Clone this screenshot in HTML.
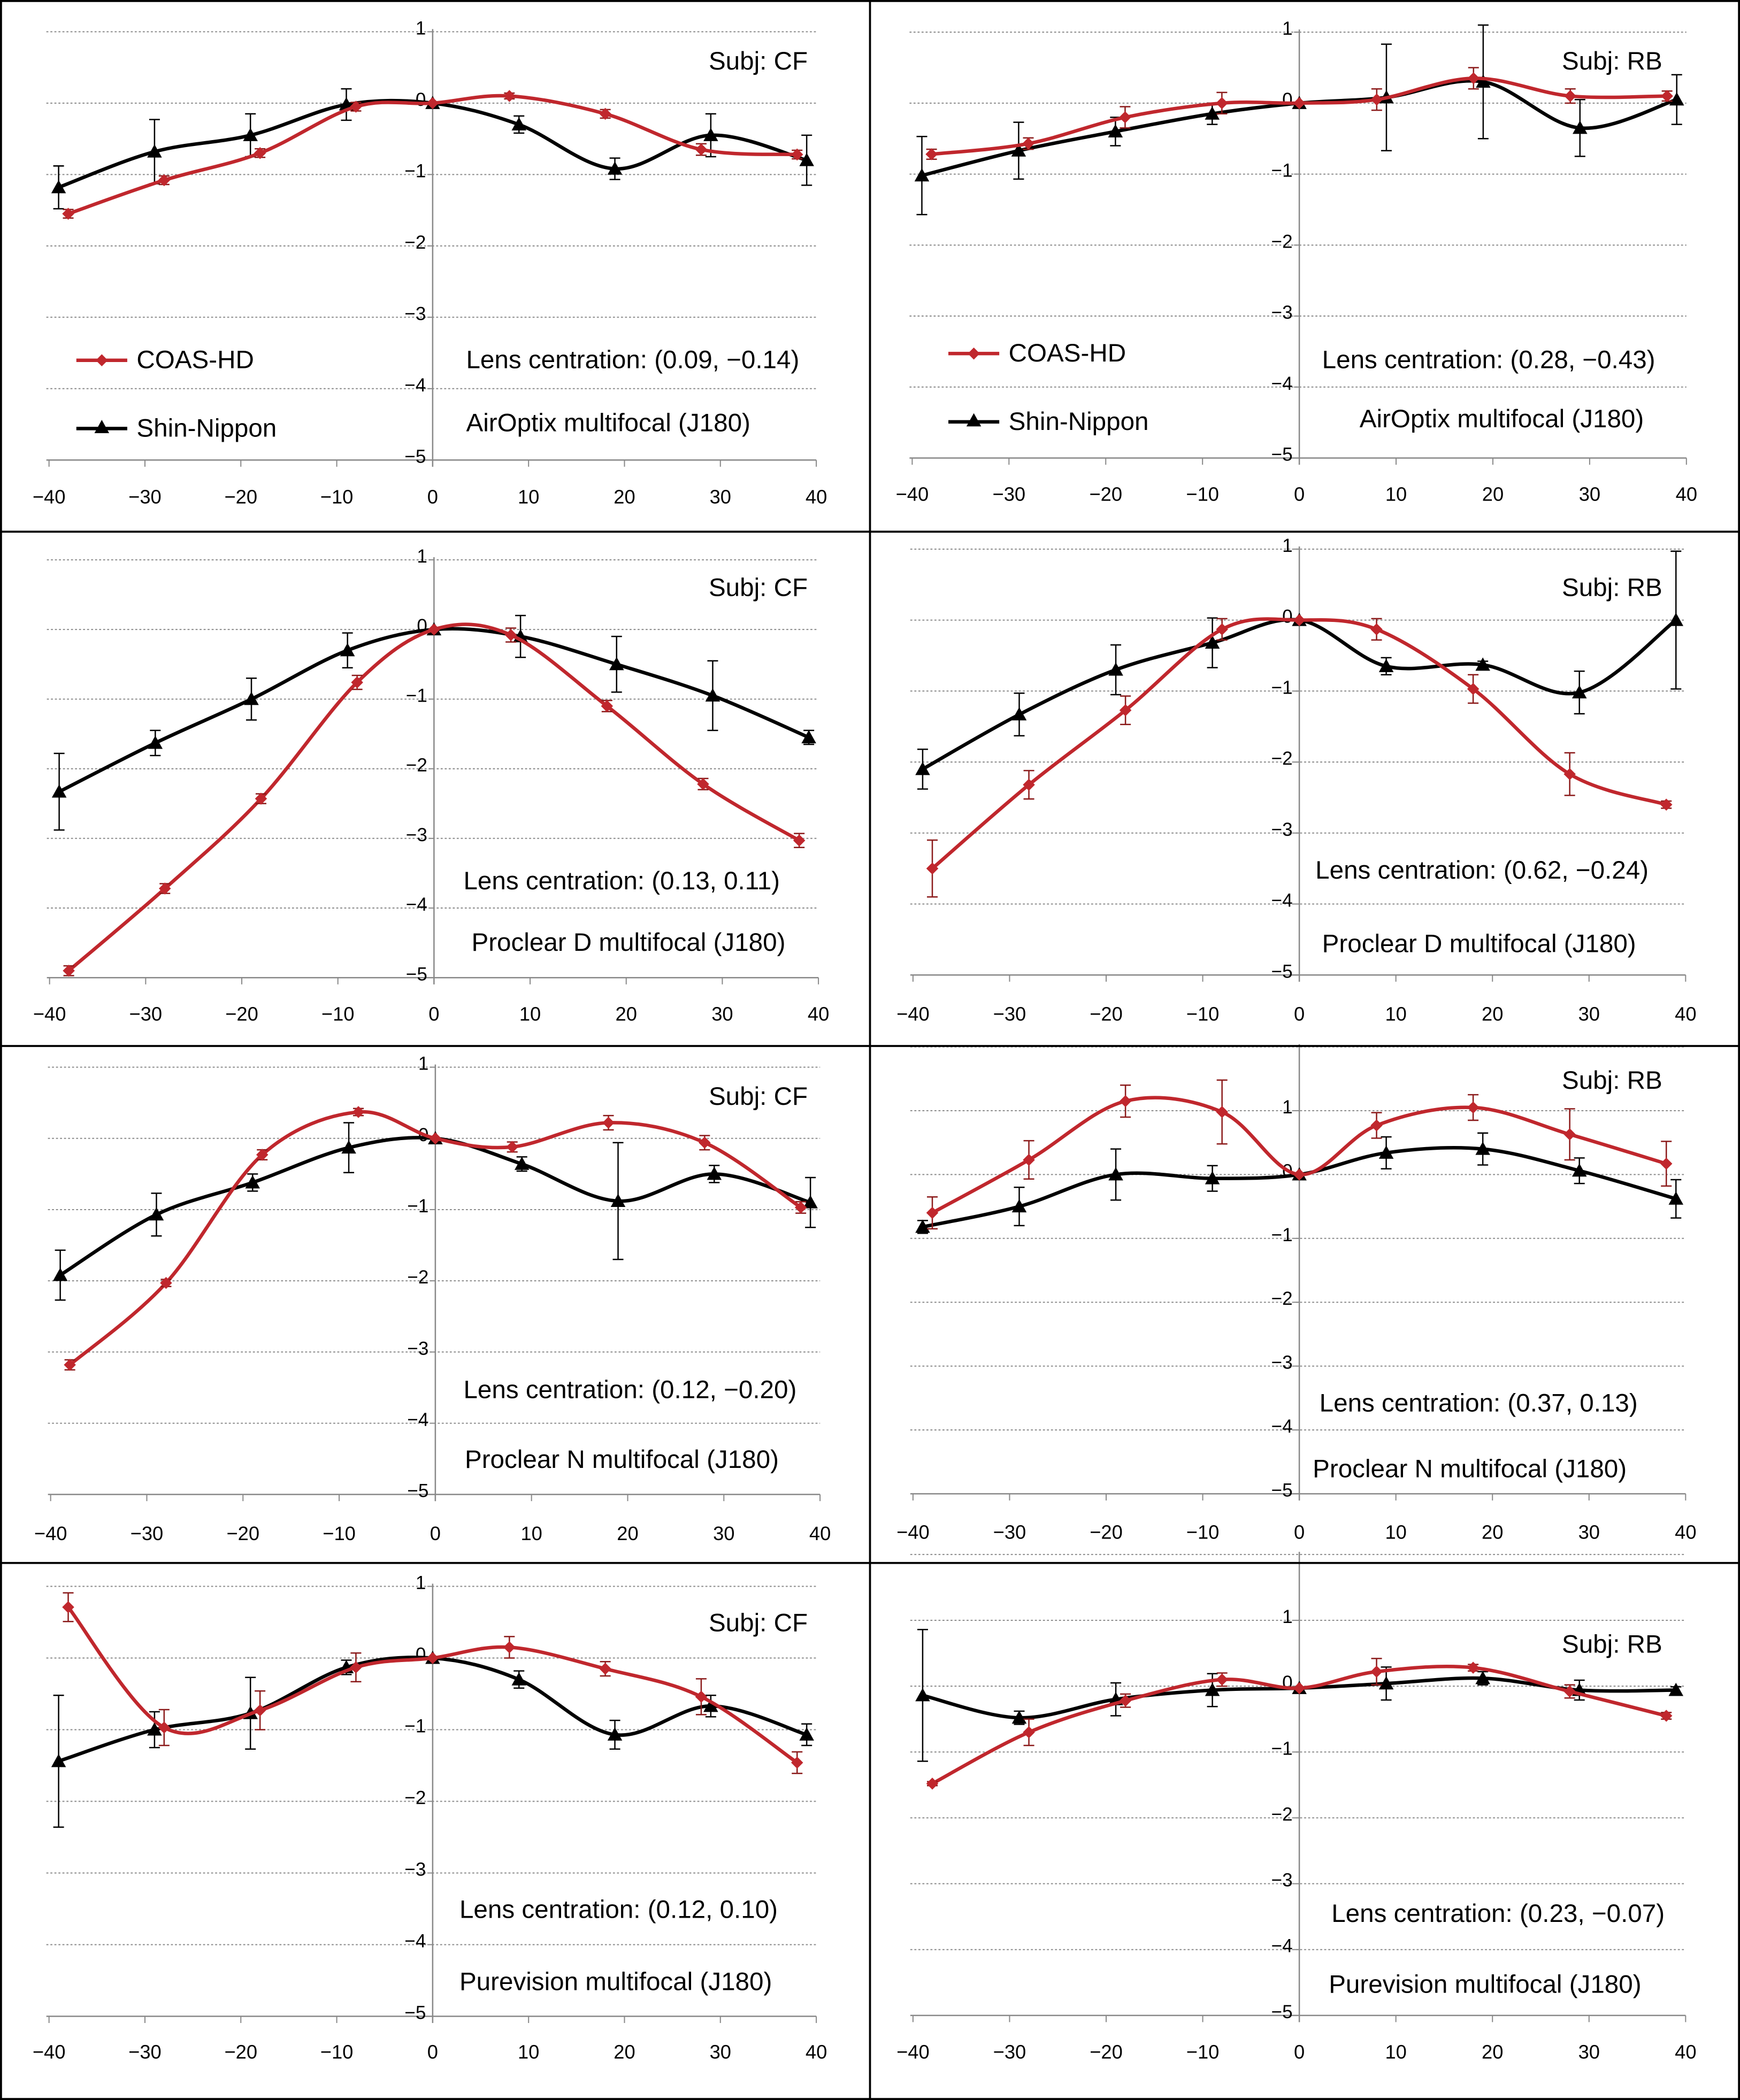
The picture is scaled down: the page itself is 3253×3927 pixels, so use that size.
<!DOCTYPE html>
<html><head><meta charset="utf-8">
<style>
html,body{margin:0;padding:0;background:#fff;}
svg{display:block;}
text{font-family:"Liberation Sans",sans-serif;}
</style></head>
<body>
<svg id="fig" xmlns="http://www.w3.org/2000/svg" width="3253" height="3927" viewBox="0 0 1299 1568" preserveAspectRatio="none">
<rect x="0" y="0" width="1299" height="1568" fill="#fff"/>
</svg>
<script>
// x positions of measurements
const coasX = [-38,-28,-18,-8,0,8,18,28,38];
const snX = [-39,-29,-19,-9,0,9,19,29,39];
const xTicks = [-40,-30,-20,-10,0,10,20,30,40];
const yTicks = [1,0,-1,-2,-3,-4,-5];

// Panel 1: CF AirOptix
const p1Coas = [-1.55,-1.08,-0.7,-0.05,0,0.1,-0.15,-0.65,-0.72];
const p1CoasErr = [0.06,0.06,0.06,0.06,0,0.04,0.06,0.08,0.06];
const p1Sn = [-1.18,-0.68,-0.45,-0.02,0,-0.3,-0.92,-0.45,-0.8];
const p1SnErr = [0.3,0.45,0.3,0.22,0,0.12,0.15,0.3,0.35];
// Panel 2: RB AirOptix
const p2Coas = [-0.72,-0.57,-0.2,0,0,0.05,0.35,0.1,0.1];
const p2CoasErr = [0.07,0.08,0.15,0.15,0,0.15,0.15,0.1,0.07];
const p2Sn = [-1.02,-0.67,-0.4,-0.15,0,0.08,0.3,-0.35,0.05];
const p2SnErr = [0.55,0.4,0.2,0.15,0,0.75,0.8,0.4,0.35];
// Panel 3: CF Proclear D
const p3Coas = [-4.9,-3.72,-2.43,-0.76,0,-0.08,-1.1,-2.22,-3.03];
const p3CoasErr = [0.07,0.07,0.07,0.1,0,0.1,0.08,0.08,0.1];
const p3Sn = [-2.33,-1.63,-1.0,-0.3,0,-0.1,-0.5,-0.95,-1.55];
const p3SnErr = [0.55,0.18,0.3,0.25,0,0.3,0.4,0.5,0.1];
// Panel 4: RB Proclear D
const p4Coas = [-3.5,-2.32,-1.27,-0.13,0,-0.13,-0.97,-2.17,-2.6];
const p4CoasErr = [0.4,0.2,0.2,0.15,0,0.15,0.2,0.3,0.05];
const p4Sn = [-2.1,-1.33,-0.7,-0.32,0,-0.65,-0.63,-1.02,0.0];
const p4SnErr = [0.28,0.3,0.35,0.35,0,0.12,0.05,0.3,0.97];
// Panel 5: CF Proclear N
const p5Coas = [-3.18,-2.03,-0.23,0.37,0,-0.12,0.22,-0.06,-0.97];
const p5CoasErr = [0.07,0.05,0.07,0.05,0,0.07,0.1,0.1,0.08];
const p5Sn = [-1.92,-1.07,-0.62,-0.13,0,-0.36,-0.88,-0.5,-0.9];
const p5SnErr = [0.35,0.3,0.12,0.35,0,0.1,0.82,0.12,0.35];
// Panel 6: RB Proclear N
const p6Coas = [-0.6,0.23,1.15,0.98,0,0.77,1.05,0.63,0.17];
const p6CoasErr = [0.25,0.3,0.25,0.5,0,0.2,0.2,0.4,0.35];
const p6Sn = [-0.82,-0.5,0,-0.06,0,0.34,0.4,0.06,-0.38];
const p6SnErr = [0.1,0.3,0.4,0.2,0,0.25,0.25,0.2,0.3];
// Panel 7: CF Purevision
const p7Coas = [0.71,-0.97,-0.73,-0.13,0,0.15,-0.15,-0.54,-1.46];
const p7CoasErr = [0.2,0.25,0.27,0.2,0,0.15,0.1,0.25,0.15];
const p7Sn = [-1.44,-1.0,-0.77,-0.13,0,-0.3,-1.07,-0.67,-1.07];
const p7SnErr = [0.92,0.25,0.5,0.1,0,0.12,0.2,0.15,0.15];
// Panel 8: RB Purevision
const p8Coas = [-1.48,-0.7,-0.22,0.1,-0.03,0.22,0.28,-0.08,-0.45];
const p8CoasErr = [0.03,0.2,0.1,0.1,0,0.2,0.05,0.1,0.05];
const p8Sn = [-0.14,-0.48,-0.2,-0.06,-0.03,0.04,0.12,-0.06,-0.06];
const p8SnErr = [1.0,0.1,0.25,0.25,0,0.25,0.1,0.15,0.05];

const panels = [
 {id:'p1',x0:323,xs:7.16,y0:77,ys:53.3,lab:371,coas:p1Coas,ce:p1CoasErr,sn:p1Sn,se:p1SnErr,subj:'Subj: CF',subjY:46,lens:'Lens centration: (0.09, \u22120.14)',lx:348,ly:269,prod:'AirOptix multifocal (J180)',px:348,py:316,legend:{x:57,y1:269,y2:320}},
 {id:'p2',x0:970,xs:7.225,y0:77,ys:53,lab:369,coas:p2Coas,ce:p2CoasErr,sn:p2Sn,se:p2SnErr,subj:'Subj: RB',subjY:46,lens:'Lens centration: (0.28, \u22120.43)',lx:987,ly:269,prod:'AirOptix multifocal (J180)',px:1015,py:313,legend:{x:708,y1:264,y2:315}},
 {id:'p3',x0:324,xs:7.175,y0:470,ys:52,lab:757,coas:p3Coas,ce:p3CoasErr,sn:p3Sn,se:p3SnErr,subj:'Subj: CF',subjY:439,lens:'Lens centration: (0.13, 0.11)',lx:346,ly:658,prod:'Proclear D multifocal (J180)',px:352,py:704},
 {id:'p4',x0:970,xs:7.21,y0:463,ys:53,lab:757,coas:p4Coas,ce:p4CoasErr,sn:p4Sn,se:p4SnErr,subj:'Subj: RB',subjY:439,lens:'Lens centration: (0.62, \u22120.24)',lx:982,ly:650,prod:'Proclear D multifocal (J180)',px:987,py:705},
 {id:'p5',x0:325,xs:7.18,y0:850,ys:53.17,lab:1145,coas:p5Coas,ce:p5CoasErr,sn:p5Sn,se:p5SnErr,subj:'Subj: CF',subjY:819,lens:'Lens centration: (0.12, \u22120.20)',lx:346,ly:1038,prod:'Proclear N multifocal (J180)',px:347,py:1090},
 {id:'p6',x0:970,xs:7.21,y0:877,ys:47.67,lab:1144,top:2,coas:p6Coas,ce:p6CoasErr,sn:p6Sn,se:p6SnErr,subj:'Subj: RB',subjY:807,lens:'Lens centration: (0.37, 0.13)',lx:985,ly:1048,prod:'Proclear N multifocal (J180)',px:980,py:1097},
 {id:'p7',x0:323,xs:7.16,y0:1238,ys:53.5,lab:1532,coas:p7Coas,ce:p7CoasErr,sn:p7Sn,se:p7SnErr,subj:'Subj: CF',subjY:1212,lens:'Lens centration: (0.12, 0.10)',lx:343,ly:1426,prod:'Purevision multifocal (J180)',px:343,py:1480},
 {id:'p8',x0:970,xs:7.21,y0:1259,ys:49.17,lab:1532,top:2,coas:p8Coas,ce:p8CoasErr,sn:p8Sn,se:p8SnErr,subj:'Subj: RB',subjY:1228,lens:'Lens centration: (0.23, \u22120.07)',lx:994,ly:1429,prod:'Purevision multifocal (J180)',px:992,py:1482}
];

const NS='http://www.w3.org/2000/svg';
const svg=document.getElementById('fig');
function mk(tag,attrs,parent){const e=document.createElementNS(NS,tag);for(const k in attrs)e.setAttribute(k,attrs[k]);(parent||svg).appendChild(e);return e;}
function fmt(v){return v<0?'\u2212'+(-v):String(v);}
const RED='#c0272d';
const FS=19;

function smooth(pts){
  let d='M'+pts[0][0]+','+pts[0][1];
  for(let i=0;i<pts.length-1;i++){
    const p0=pts[i-1]||pts[i],p1=pts[i],p2=pts[i+1],p3=pts[i+2]||p2;
    const c1x=p1[0]+(p2[0]-p0[0])/6,c1y=p1[1]+(p2[1]-p0[1])/6;
    const c2x=p2[0]-(p3[0]-p1[0])/6,c2y=p2[1]-(p3[1]-p1[1])/6;
    d+=' C'+c1x+','+c1y+' '+c2x+','+c2y+' '+p2[0]+','+p2[1];
  }
  return d;
}

function diamond(g,x,y,r){return mk('polygon',{points:`${x},${y-r} ${x+r},${y} ${x},${y+r} ${x-r},${y}`,fill:RED},g);}
function tri(g,x,y,r){return mk('polygon',{points:`${x},${y-r} ${x+r},${y+r*0.8} ${x-r},${y+r*0.8}`,fill:'#000'},g);}

panels.forEach(p=>{
  const X=v=>p.x0+v*p.xs, Y=v=>p.y0-v*p.ys;
  const g=mk('g',{});
  
  
  const top=p.top||1;
  const ga=mk('g',{},g);
  
  
  for(let v=top;v>-5;v--){
    mk('line',{x1:X(-40)-2,x2:X(40),y1:Y(v),y2:Y(v),stroke:'#8a8a8a','stroke-width':0.8,'stroke-dasharray':'1.5,1.5'},ga);
  }
  const xa=mk('line',{x1:X(-40)-2,x2:X(40),y1:Y(-5),y2:Y(-5),stroke:'#888','stroke-width':1},g);
  
  
  xTicks.forEach(t=>{
    mk('line',{x1:X(t),x2:X(t),y1:Y(-5),y2:Y(-5)+5,stroke:'#888','stroke-width':0.8},g);
    const tx=mk('text',{x:X(t),y:p.lab+5,'font-size':14.5,'text-anchor':'middle',fill:'#000'},g);
    tx.textContent=fmt(t);
    
    
  });
  const ya=mk('line',{x1:X(0),x2:X(0),y1:Y(top)-2,y2:Y(-5)+5,stroke:'#888','stroke-width':1},g);
  
  
  yTicks.forEach(t=>{
    mk('line',{x1:X(0)-4,x2:X(0),y1:Y(t),y2:Y(t),stroke:'#888','stroke-width':0.8},g);
    const tx=mk('text',{x:X(0)-5,y:Y(t)+2,'font-size':14,'text-anchor':'end',fill:'#000'},g);
    tx.textContent=fmt(t);
    
    
  });
  const series=[{xs:snX,ys:p.sn,es:p.se,col:'#000',name:'shin-nippon',mark:tri,r:5.5},{xs:coasX,ys:p.coas,es:p.ce,col:RED,name:'coas-hd',mark:diamond,r:4.5}];
  series.forEach(s=>{
    const sg=mk('g',{},g);
    
    
    const pts=s.xs.map((x,i)=>[X(x),Y(s.ys[i])]);
    const ln=mk('path',{d:smooth(pts),fill:'none',stroke:s.col,'stroke-width':2.6},sg);
    
    
    s.xs.forEach((x,i)=>{
      const e=s.es[i];
      if(e>0){
        const cx=X(x),ya1=Y(s.ys[i]+e),yb=Y(s.ys[i]-e);
        const eb=mk('path',{d:`M${cx},${ya1}V${yb}M${cx-4},${ya1}H${cx+4}M${cx-4},${yb}H${cx+4}`,stroke:s.col==='#000'?'#000':'#8b1a1a','stroke-width':1},sg);
        
        
      }
      const m=s.mark(sg,X(x),Y(s.ys[i]),s.r);
      
      
    });
  });
  const sj=mk('text',{x:(p.x0<500?603:1241),y:p.subjY+6,'font-size':FS,'text-anchor':'end'},g);
  sj.textContent=p.subj;
  
  
  const lc=mk('text',{x:p.lx,y:p.ly+6,'font-size':FS},g);
  lc.textContent=p.lens;
  
  
  const pr=mk('text',{x:p.px,y:p.py+6,'font-size':FS},g);
  pr.textContent=p.prod;
  
  
  if(p.legend){
    const L=p.legend;
    const l1=mk('g',{},g);
    
    
    mk('line',{x1:L.x,x2:L.x+38,y1:L.y1,y2:L.y1,stroke:RED,'stroke-width':2.6},l1);
    diamond(l1,L.x+19,L.y1,4.5);
    const t1=mk('text',{x:L.x+45,y:L.y1+6,'font-size':FS},l1);t1.textContent='COAS-HD';
    const l2=mk('g',{},g);
    
    
    mk('line',{x1:L.x,x2:L.x+38,y1:L.y2,y2:L.y2,stroke:'#000','stroke-width':2.6},l2);
    tri(l2,L.x+19,L.y2-1,5.5);
    const t2=mk('text',{x:L.x+45,y:L.y2+6,'font-size':FS},l2);t2.textContent='Shin-Nippon';
  }
});
const bg=mk('g',{stroke:'#000','stroke-width':1.5,fill:'none'});


mk('rect',{x:0.75,y:0.75,width:1297.5,height:1566.5},bg);
mk('line',{x1:649.5,x2:649.5,y1:0,y2:1568},bg);
[397,781,1167].forEach(y=>mk('line',{x1:0,x2:1299,y1:y,y2:y},bg));
</script>
</body></html>
